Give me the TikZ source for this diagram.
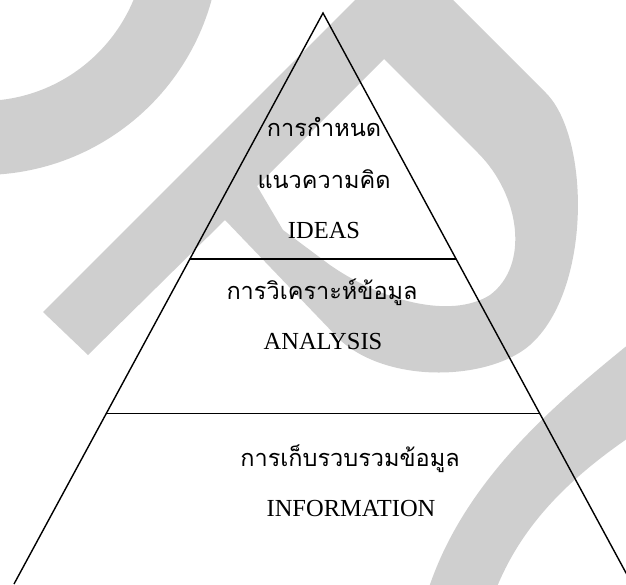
\documentclass[tikz,border=0pt]{standalone}
\usepackage{fontspec}
\setmainfont{Liberation Serif}
\newfontfamily\thaifont[Script=Thai]{Loma}
\usetikzlibrary{calc}
\definecolor{wmgray}{RGB}{207,207,207}
\tikzset{
  thaitext/.style={font=\thaifont\fontsize{23.5}{26}\selectfont, inner sep=0pt, anchor=base},
  latintext/.style={font=\fontsize{24.5}{28}\selectfont, inner sep=0pt, anchor=base},
}
\begin{document}
\begin{tikzpicture}[x=1pt,y=-1pt,line width=1.4pt]
  \useasboundingbox (0,0) rectangle (626,584);
  % watermark behind the pyramid
  \begin{scope}
    \clip (0,0) rectangle (626,584);
    \fill[wmgray, even odd rule] (-18,-63) circle (238) (-18,-63) circle (164);
    \fill[wmgray, even odd rule]
      (43,312) -- (404,-49) -- (546,93)
      .. controls (590,137) and (592,290) .. (530,345)
      .. controls (490,380) and (390,385) .. (340,340)
      -- (225,220) -- (88,355) -- cycle
      (384,59) -- (478,153)
      .. controls (520,195) and (530,265) .. (490,295)
      .. controls (450,320) and (380,300) .. (330,265)
      -- (283,230) -- (257,186) -- cycle;
    \fill[wmgray] (640,335) .. controls (560,400) and (460,480) .. (425,600)
      -- (492,600) .. controls (520,520) and (580,470) .. (640,430) -- cycle;
  \end{scope}
  % pyramid
  \coordinate (apex) at (323,13);
  \coordinate (bl) at (14,584);
  \coordinate (br) at (632,584);
  \draw (bl) -- (apex) -- (br);
  \draw ($(apex)!0.4308!(bl)$) -- ($(apex)!0.4308!(br)$);
  \draw ($(apex)!0.7018!(bl)$) -- ($(apex)!0.7018!(br)$);
  % labels
  \node[thaitext] (idea1) at (324,136) {การกำหนด};
  \node[thaitext] (idea2) at (324,188) {แนวความคิด};
  \node[latintext] (idea3) at (324,238) {IDEAS};
  \node[thaitext] (anal1) at (322,299) {การวิเคราะห์ข้อมูล};
  \node[latintext] (anal2) at (323,349) {ANALYSIS};
  \node[thaitext] (info1) at (350,466) {การเก็บรวบรวมข้อมูล};
  \node[latintext] (info2) at (351,516) {INFORMATION};
\end{tikzpicture}
\end{document}
